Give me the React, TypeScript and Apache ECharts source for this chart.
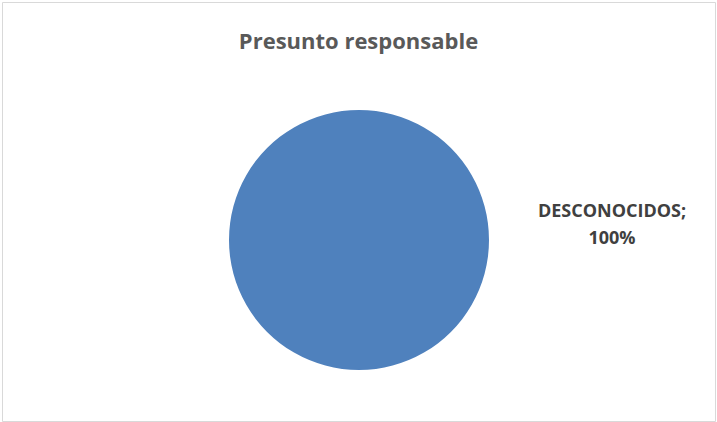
import React, { useEffect, useRef } from "react";
import * as echarts from "echarts";

const categories = ["DESCONOCIDOS"];
const values = [100];
const titleText = "Presunto responsable";

export default function App() {
  const ref = useRef<HTMLDivElement>(null);
  useEffect(() => {
    if (!ref.current) return;
    const chart = echarts.init(ref.current, null, { renderer: "svg" });
    chart.setOption({
      animation: false,
      backgroundColor: "#ffffff",
      title: {
        text: titleText,
        left: "center",
        top: 24,
        textStyle: {
          fontFamily: "Open Sans",
          fontWeight: "bold",
          fontSize: 22,
          color: "#595959",
        },
      },
      graphic: [
        {
          type: "rect",
          shape: { x: 2.5, y: 2.5, width: 713, height: 419 },
          style: { fill: "none", stroke: "#d9d9d9", lineWidth: 1 },
          silent: true,
        },
      ],
      series: [
        {
          type: "pie",
          center: [359, 240],
          radius: 130,
          startAngle: 180,
          data: categories.map((c, i) => ({ name: c, value: values[i] })),
          itemStyle: { color: "#4F81BD", borderWidth: 0 },
          label: {
            show: true,
            position: "outside",
            formatter: "{b};\n{d}%",
            fontFamily: "Open Sans",
            fontWeight: "bold",
            fontSize: 18,
            lineHeight: 27,
            color: "#404040",
            align: "center",
          },
          labelLine: { show: false },
          labelLayout: { x: 612, y: 223, align: "center", verticalAlign: "middle" },
          emphasis: { disabled: true },
        },
      ],
    });
    return () => chart.dispose();
  }, []);
  return (
    <div
      ref={ref}
      style={{ position: "absolute", left: 0, top: 0, width: 717, height: 422 }}
    />
  );
}
